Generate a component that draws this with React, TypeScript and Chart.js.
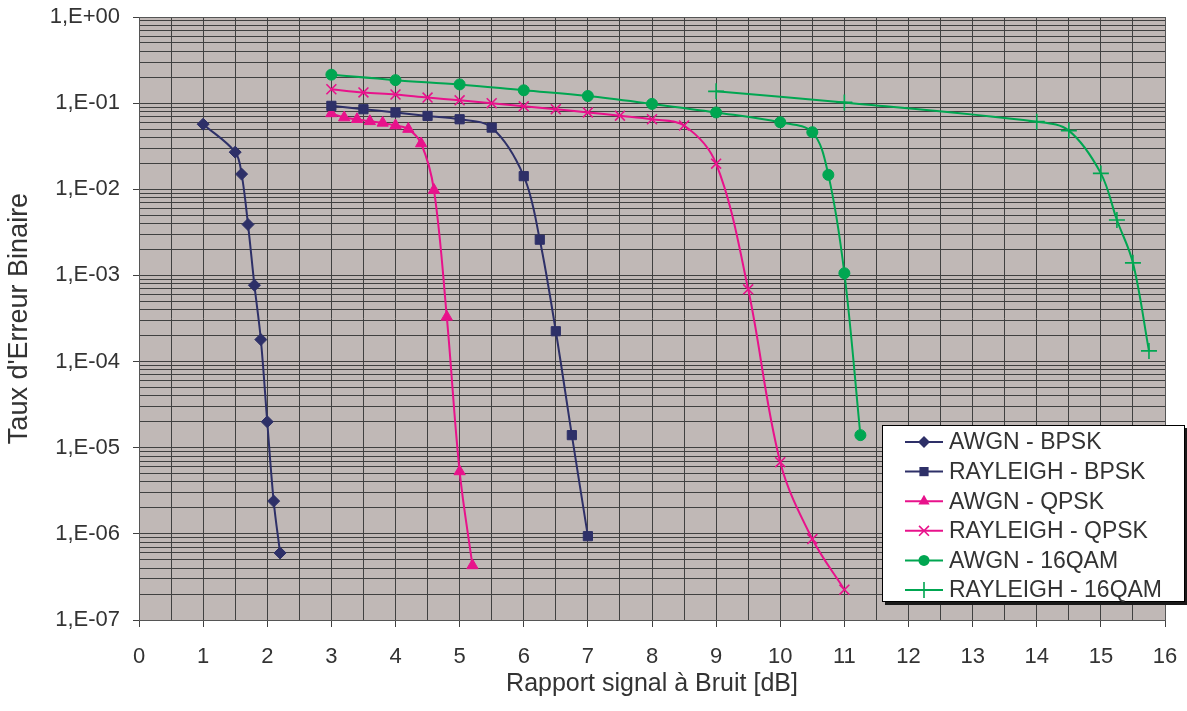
import React, { useEffect, useRef } from "react";
import { Chart, registerables } from "chart.js";

Chart.register(...registerables);

// ---------- DATA ----------
const awgnBpskX = [1, 1.5, 1.6, 1.7, 1.8, 1.9, 2.0, 2.1, 2.2];
const awgnBpskY = [0.057, 0.027, 0.015, 0.0039, 0.00077, 0.00018, 0.00002, 0.0000024, 0.0000006];

const rayBpskX = [3, 3.5, 4, 4.5, 5, 5.5, 6, 6.25, 6.5, 6.75, 7];
const rayBpskY = [0.093, 0.085, 0.078, 0.071, 0.065, 0.052, 0.0142, 0.0026, 0.000225, 0.000014, 0.00000094];

const awgnQpskX = [3, 3.2, 3.4, 3.6, 3.8, 4, 4.2, 4.4, 4.6, 4.8, 5, 5.2];
const awgnQpskY = [0.076, 0.068, 0.065, 0.0615, 0.059, 0.055, 0.05, 0.034, 0.0098, 0.00033, 0.0000053, 0.00000043];

const rayQpskX = [3, 3.5, 4, 4.5, 5, 5.5, 6, 6.5, 7, 7.5, 8, 8.5, 9, 9.5, 10, 10.5, 11];
const rayQpskY = [0.145, 0.133, 0.126, 0.116, 0.108, 0.1, 0.092, 0.085, 0.078, 0.0715, 0.065, 0.055, 0.0198, 0.00069, 0.0000068, 0.00000087, 0.000000225];

const awgn16X = [3, 4, 5, 6, 7, 8, 9, 10, 10.5, 10.75, 11, 11.25];
const awgn16Y = [0.214, 0.185, 0.165, 0.141, 0.121, 0.098, 0.078, 0.06, 0.046, 0.0147, 0.00106, 0.000014];

const ray16X = [9, 11, 14, 14.5, 15, 15.25, 15.5, 15.75];
const ray16Y = [0.137, 0.102, 0.061, 0.048, 0.0153, 0.0044, 0.0014, 0.000133];

const seriesNames = [
  "AWGN - BPSK",
  "RAYLEIGH - BPSK",
  "AWGN - QPSK",
  "RAYLEIGH - QPSK",
  "AWGN - 16QAM",
  "RAYLEIGH - 16QAM",
];

const decadeExponents = [-7, -6, -5, -4, -3, -2, -1, 0];
const xMin = 0;
const xMax = 16;

const xTitle = "Rapport signal à Bruit [dB]";
const yTitle = "Taux d'Erreur Binaire";

// ---------- STYLE ----------
const NAVY = "#2E3068";
const MAGENTA = "#E8128B";
const GREEN = "#00A651";
const PLOT_BG = "#C0B8B6";
const GRID = "#404040";
const TEXT = "#333333";
const FONT = "'Liberation Sans', Arial, sans-serif";

const styles = [
  { color: NAVY, point: "rectRot", radius: 6, borderWidth: 1 },
  { color: NAVY, point: "rect", radius: 6.5, borderWidth: 1 },
  { color: MAGENTA, point: "triangle", radius: 6.5, borderWidth: 1 },
  { color: MAGENTA, point: "crossRot", radius: 7, borderWidth: 1.6 },
  { color: GREEN, point: "circle", radius: 5.5, borderWidth: 1 },
  { color: GREEN, point: "cross", radius: 8, borderWidth: 1.6 },
];

const zip = (xs: number[], ys: number[]) => xs.map((x, i) => ({ x, y: ys[i] }));
const seriesData = [
  zip(awgnBpskX, awgnBpskY),
  zip(rayBpskX, rayBpskY),
  zip(awgnQpskX, awgnQpskY),
  zip(rayQpskX, rayQpskY),
  zip(awgn16X, awgn16Y),
  zip(ray16X, ray16Y),
];

function drawMarker(ctx: CanvasRenderingContext2D, type: string, x: number, y: number, r: number, color: string, lw: number) {
  ctx.save();
  ctx.fillStyle = color;
  ctx.strokeStyle = color;
  ctx.lineWidth = lw;
  ctx.beginPath();
  const q = Math.SQRT1_2 * r;
  switch (type) {
    case "rectRot":
      ctx.moveTo(x, y - r);
      ctx.lineTo(x + r, y);
      ctx.lineTo(x, y + r);
      ctx.lineTo(x - r, y);
      ctx.closePath();
      ctx.fill();
      break;
    case "rect":
      ctx.rect(x - q, y - q, 2 * q, 2 * q);
      ctx.fill();
      break;
    case "triangle": {
      const a = -Math.PI / 2;
      for (let i = 0; i < 3; i++) {
        const ang = a + (i * 2 * Math.PI) / 3;
        const px = x + Math.cos(ang) * r;
        const py = y + Math.sin(ang) * r;
        if (i === 0) ctx.moveTo(px, py);
        else ctx.lineTo(px, py);
      }
      ctx.closePath();
      ctx.fill();
      break;
    }
    case "crossRot":
      ctx.moveTo(x - q, y - q);
      ctx.lineTo(x + q, y + q);
      ctx.moveTo(x + q, y - q);
      ctx.lineTo(x - q, y + q);
      ctx.stroke();
      break;
    case "cross":
      ctx.moveTo(x - r, y);
      ctx.lineTo(x + r, y);
      ctx.moveTo(x, y - r);
      ctx.lineTo(x, y + r);
      ctx.stroke();
      break;
    default:
      ctx.arc(x, y, r, 0, Math.PI * 2);
      ctx.fill();
  }
  ctx.restore();
}

const plotBgPlugin = {
  id: "plotBg",
  beforeDraw(chart: any) {
    const { ctx, chartArea } = chart;
    ctx.save();
    ctx.fillStyle = PLOT_BG;
    ctx.fillRect(chartArea.left, chartArea.top, chartArea.right - chartArea.left, chartArea.bottom - chartArea.top);
    ctx.restore();
  },
  afterDatasetsDraw(chart: any) {
    const { ctx, chartArea } = chart;
    ctx.save();
    ctx.strokeStyle = "#555555";
    ctx.lineWidth = 1;
    ctx.strokeRect(Math.round(chartArea.left) + 0.5, Math.round(chartArea.top) + 0.5, Math.round(chartArea.right - chartArea.left), Math.round(chartArea.bottom - chartArea.top));
    ctx.restore();
  },
};

const legendPlugin = {
  id: "boxLegend",
  afterDraw(chart: any) {
    const { ctx, chartArea } = chart;
    const left = chartArea.right - 283;
    const top = chartArea.bottom - 195;
    const w = 303;
    const h = 177;
    ctx.save();
    ctx.fillStyle = "#1a1a1a";
    ctx.fillRect(left + 3, top + 3, w, h);
    ctx.fillStyle = "#ffffff";
    ctx.fillRect(left, top, w, h);
    ctx.strokeStyle = "#000000";
    ctx.lineWidth = 1;
    ctx.strokeRect(left + 0.5, top + 0.5, w - 1, h - 1);
    const rowH = 29.6;
    const y0 = top + 17;
    ctx.font = `23px ${FONT}`;
    ctx.textBaseline = "middle";
    ctx.textAlign = "left";
    seriesNames.forEach((name, i) => {
      const s = styles[i];
      const y = y0 + i * rowH;
      ctx.strokeStyle = s.color;
      ctx.lineWidth = 2;
      ctx.beginPath();
      ctx.moveTo(left + 23, y);
      ctx.lineTo(left + 61, y);
      ctx.stroke();
      drawMarker(ctx, s.point, left + 42, y, s.radius, s.color, s.borderWidth);
      ctx.fillStyle = TEXT;
      ctx.fillText(name, left + 67, y + 1);
    });
    ctx.restore();
  },
};

function fmtExp(v: number) {
  const e = Math.round(Math.log10(v));
  const sign = e >= 0 ? "+" : "-";
  const a = Math.abs(e);
  return `1,E${sign}${a < 10 ? "0" + a : a}`;
}

function isDecade(v: number) {
  const l = Math.log10(v);
  return Math.abs(l - Math.round(l)) < 1e-9;
}

export default function App() {
  const ref = useRef<HTMLCanvasElement | null>(null);
  useEffect(() => {
    if (!ref.current) return;
    const chart = new Chart(ref.current, {
      type: "line",
      data: {
        datasets: seriesData.map((d, i) => ({
          label: seriesNames[i],
          data: d,
          borderColor: styles[i].color,
          backgroundColor: styles[i].color,
          borderWidth: 2,
          pointStyle: styles[i].point as any,
          pointRadius: styles[i].radius,
          pointBorderWidth: styles[i].borderWidth,
          pointBorderColor: styles[i].color,
          pointBackgroundColor: styles[i].color,
          tension: 0.35,
          fill: false,
        })),
      },
      options: {
        responsive: false,
        animation: false,
        devicePixelRatio: 1,
        layout: { padding: { left: 0, top: 17, right: 22, bottom: 0 } },
        plugins: {
          legend: { display: false },
          tooltip: { enabled: false },
        },
        scales: {
          x: {
            type: "linear",
            min: xMin,
            max: xMax,
            afterFit: (scale: any) => {
              scale.height = 91;
              scale.paddingLeft = 0;
              scale.paddingRight = 0;
            },
            ticks: {
              stepSize: 0.5,
              autoSkip: false,
              maxRotation: 0,
              padding: 17,
              color: TEXT,
              font: { family: FONT, size: 22 },
              callback: (v: any) => (Number(v) % 1 === 0 ? String(v) : ""),
            },
            grid: {
              color: GRID,
              lineWidth: 1,
              tickLength: 7,
              tickColor: (c: any) => (c.tick && c.tick.value % 1 === 0 ? GRID : "rgba(0,0,0,0)"),
            },
            border: { color: "#555555" },
            title: {
              display: true,
              text: xTitle,
              color: TEXT,
              font: { family: FONT, size: 25 },
              padding: { top: 0, bottom: 12 },
            },
          },
          y: {
            type: "logarithmic",
            min: 1e-7,
            max: 1,
            afterFit: (scale: any) => {
              scale.width = 139;
              scale.paddingTop = 0;
              scale.paddingBottom = 0;
            },
            afterBuildTicks: (scale: any) => {
              const ticks: any[] = [];
              decadeExponents.forEach((e) => {
                const base = Math.pow(10, e);
                const n = e === 0 ? 1 : 9;
                for (let k = 1; k <= n; k++) {
                  const v = parseFloat((k * base).toPrecision(3));
                  ticks.push({ value: v, major: k === 1 });
                }
              });
              scale.ticks = ticks;
            },
            ticks: {
              autoSkip: false,
              padding: 13,
              color: TEXT,
              font: { family: FONT, size: 22 },
              callback: (v: any) => (isDecade(Number(v)) ? fmtExp(Number(v)) : ""),
            },
            grid: {
              color: GRID,
              lineWidth: 1,
              tickLength: 6,
              tickColor: (c: any) => (c.tick && isDecade(c.tick.value) ? GRID : "rgba(0,0,0,0)"),
            },
            border: { color: "#555555" },
            title: {
              display: true,
              text: yTitle,
              color: TEXT,
              font: { family: FONT, size: 27 },
              padding: { top: 3, bottom: 0 },
            },
          },
        },
      },
      plugins: [plotBgPlugin, legendPlugin],
    } as any);
    return () => chart.destroy();
  }, []);
  return (
    <div style={{ position: "absolute", left: 0, top: 0, width: 1187, height: 711, background: "#ffffff" }}>
      <canvas ref={ref} width={1187} height={711} style={{ display: "block", width: 1187, height: 711 }} />
    </div>
  );
}
